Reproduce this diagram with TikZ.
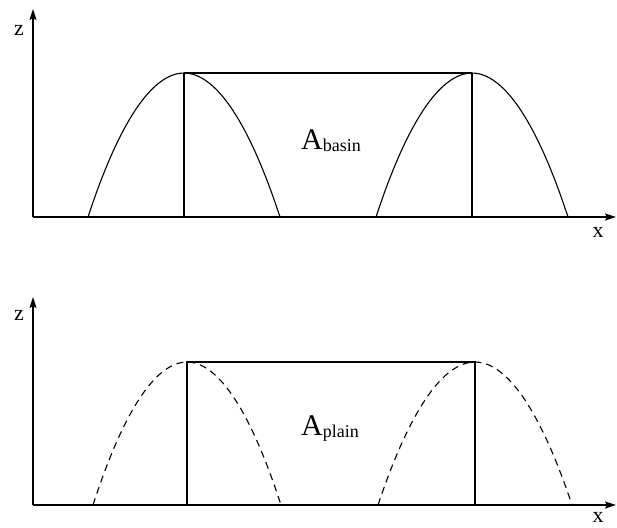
\documentclass[tikz,border=0pt]{standalone}
\usepackage{fontspec}
\setmainfont{Liberation Serif}
\usepackage{tikz}
\usetikzlibrary{arrows.meta,positioning}
\definecolor{ink}{HTML}{000000}
\tikzset{
  >={Stealth[length=11pt,width=7pt,inset=2pt]},
  % --- lines
  axis/.style     = {->, draw=ink, line width=1.5pt},
  hump/.style     = {draw=ink, line width=1.1pt},
  dashhump/.style = {hump, dash pattern=on 7pt off 5pt},
  wall/.style     = {draw=ink, line width=1.2pt},
  % --- labels
  lbl/.style      = {font=\fontsize{22}{23}\selectfont, inner sep=0pt, text=ink},
  area/.style     = {anchor=base west, inner sep=0pt, text=ink},
}
\newcommand{\arealabel}[1]{{\fontsize{30}{32}\selectfont A}\raisebox{-2.5pt}{\fontsize{18}{19}\selectfont #1}}

\begin{document}
\begin{tikzpicture}[x=1pt,y=-1pt]
  \useasboundingbox (0,0) rectangle (617,527);

  % --- upper panel: basin
  \coordinate (o1) at (33,217);
  \coordinate (zt1) at (33,9);
  \coordinate (xt1) at (616,217);
  \draw[axis] (o1) -- (zt1);
  \draw[axis] (o1) -- (xt1);
  \node[lbl] (z1) at (19,30) {z};
  \node[lbl] (x1) at (598,232) {x};

  \coordinate (la1) at (88,217);  \coordinate (lp1) at (184,73);  \coordinate (lb1) at (280,217);
  \coordinate (ra1) at (376,217); \coordinate (rp1) at (472,73);  \coordinate (rb1) at (568,217);
  \draw[hump] (la1) parabola bend (lp1) (lb1);
  \draw[hump] (ra1) parabola bend (rp1) (rb1);
  \draw[wall] (lp1) -- (lp1 |- o1);
  \draw[wall] (rp1) -- (rp1 |- o1);
  \draw[wall] (lp1) -- (rp1);
  \node[area] (ab) at (301,149) {\arealabel{basin}};

  % --- lower panel: plain
  \coordinate (o2) at (33,505);
  \coordinate (zt2) at (33,297);
  \coordinate (xt2) at (616,505);
  \draw[axis] (o2) -- (zt2);
  \draw[axis] (o2) -- (xt2);
  \node[lbl] (z2) at (19,315) {z};
  \node[lbl] (x2) at (598,517) {x};

  \coordinate (la2) at (93,505);  \coordinate (lp2) at (187,362); \coordinate (lb2) at (281,505);
  \coordinate (ra2) at (378,505); \coordinate (rp2) at (475,362); \coordinate (rb2) at (572,505);
  \draw[dashhump] (la2) parabola bend (lp2) (lb2);
  \draw[dashhump] (ra2) parabola bend (rp2) (rb2);
  \draw[wall] (lp2 |- o2) -- (lp2) -- (rp2) -- (rp2 |- o2);
  \node[area] (ap) at (301,435) {\arealabel{plain}};
\end{tikzpicture}
\end{document}
